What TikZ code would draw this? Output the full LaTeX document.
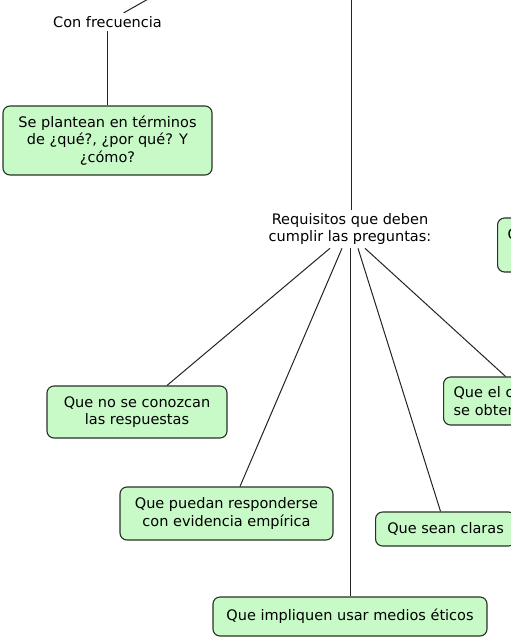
\documentclass[tikz,border=0pt]{standalone}
\usepackage{fontspec}
\setmainfont{DejaVu Sans}
\usepackage{tikz}
\usetikzlibrary{positioning,calc}
\definecolor{boxfill}{RGB}{200,250,200}
\definecolor{boxline}{RGB}{40,48,40}
\definecolor{conline}{RGB}{35,35,35}

\begin{document}
\begin{tikzpicture}[x=1pt,y=-1pt,font=\fontsize{14.5}{17.5}\selectfont,
		box/.style={draw=boxline,fill=boxfill,rounded corners=7pt,line width=1.1pt,align=center,inner sep=0pt},
		link/.style={draw=conline,line width=1pt}]
		\useasboundingbox (0,0) rectangle (511,638);
		\clip (0,0) rectangle (511,638);
		\coordinate (top) at (351,-2);
		\coordinate (ftop) at (150,-2);
		\node (freq) at (107.5,22) {Con frecuencia};
		\node[box,minimum width=209,minimum height=69] (pl) at (107.5,140.5) {Se plantean en términos\\de ¿qué?, ¿por qué? Y\\¿cómo?};
		\node[align=center] (req) at (350,229) {Requisitos que deben\\cumplir las preguntas:};
		\node[box,minimum width=120,minimum height=54,anchor=west,text width=100,align=left] (qa) at (497,245) {Q\\\strut};
		\node[box,minimum width=140,minimum height=48,anchor=west,text width=120,align=left] (qel) at (443,401) {Que el c\\se obten};
		\node[box,minimum width=180,minimum height=52] (qno) at (137,412) {Que no se conozcan\\las respuestas};
		\node[box,minimum width=213,minimum height=53] (qpr) at (226.5,513.5) {Que puedan responderse\\con evidencia empírica};
		\node[box,minimum width=140,minimum height=34,anchor=west] (qcl) at (375,529) {Que sean claras};
		\node[box,minimum width=274,minimum height=39] (qet) at (350,616.5) {Que impliquen usar medios éticos};
		\draw[link] (top) -- (top |- req.north);
		\draw[link] (ftop) -- (freq);
		\draw[link] (freq) -- (pl);
		\draw[link] ([xshift=-20]req.south) -- ([xshift=30]qno.north);
		\draw[link] ([xshift=-8]req.south) -- ([xshift=13.5]qpr.north);
		\draw[link] (req.south) -- (qet.north);
		\draw[link] ([xshift=8]req.south) -- ([xshift=-5]qcl.north);
		\draw[link] ([xshift=15]req.south) -- ([xshift=-8]qel.north);
\end{tikzpicture}
\end{document}
